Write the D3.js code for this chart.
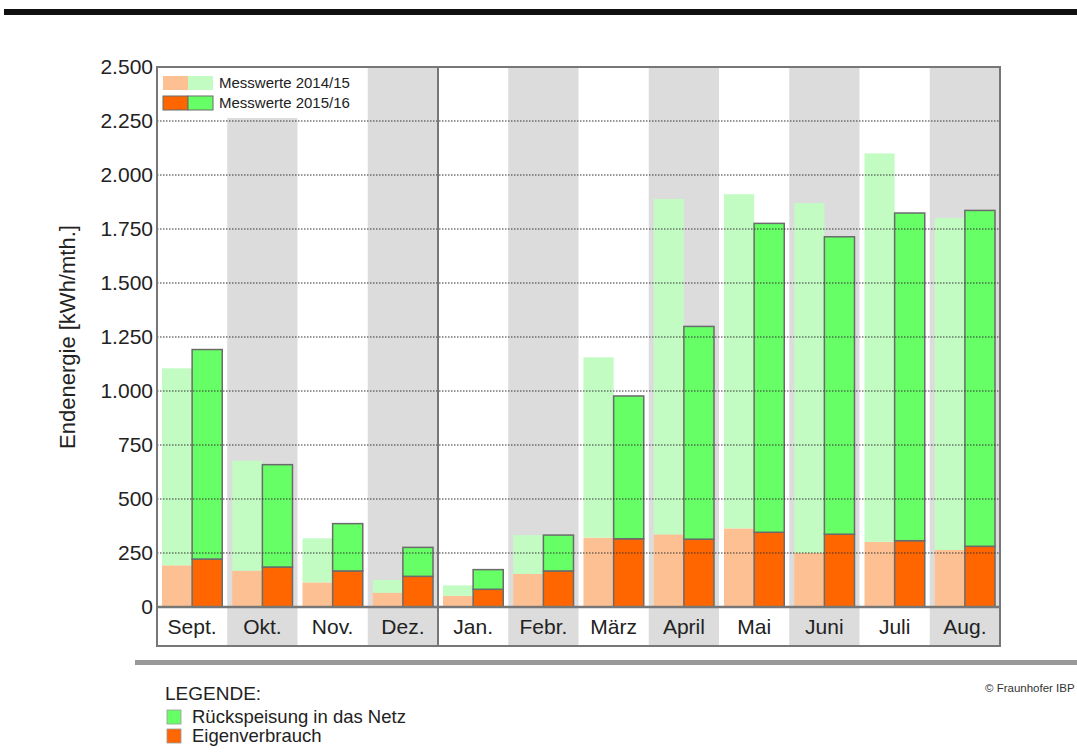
<!DOCTYPE html>
<html>
<head>
<meta charset="utf-8">
<script src="https://cdn.jsdelivr.net/npm/d3@7"></script>
<style>
  body { margin: 0; background: #fff; }
  svg { display: block; font-family: "Liberation Sans", Arial, sans-serif; }
</style>
</head>
<body>
<div id="chart"></div>
<script>
// Monate (Sept. 2015 bis Aug. 2016)
const months = ["Sept.", "Okt.", "Nov.", "Dez.", "Jan.", "Febr.", "März", "April", "Mai", "Juni", "Juli", "Aug."];

// Messwerte 2014/15 [kWh/mth.]
const eigen1415 = [193, 168, 114, 66, 52, 153, 321, 336, 364, 250, 302, 264];
const rueck1415 = [912, 509, 204, 59, 48, 180, 835, 1553, 1547, 1620, 1798, 1537];

// Messwerte 2015/16 [kWh/mth.]
const eigen1516 = [222, 185, 167, 142, 82, 167, 316, 314, 346, 337, 307, 281];
const rueck1516 = [970, 474, 219, 134, 91, 166, 661, 985, 1430, 1377, 1517, 1555];

const yTicks = [0, 250, 500, 750, 1000, 1250, 1500, 1750, 2000, 2250, 2500];

const W = 1077, H = 753;
const plot = {left: 157, right: 1000, top: 67, bottom: 607, labelBottom: 646};

const de = d3.formatLocale({decimal: ",", thousands: ".", grouping: [3], currency: ["", " €"]});
const fmt = de.format(",d");

const svg = d3.select("#chart").append("svg")
    .attr("width", W)
    .attr("height", H);

// schwarzer Balken oben
svg.append("rect").attr("x", 4).attr("y", 9).attr("width", W - 4).attr("height", 6).attr("fill", "#111");

const x = d3.scaleBand().domain(months).range([plot.left, plot.right]).padding(0);
const y = d3.scaleLinear().domain([0, 2500]).range([plot.bottom, plot.top]);

// graue Streifen (jeder zweite Monat), inkl. Beschriftungszeile
svg.append("g").selectAll("rect")
    .data(months.filter((m, i) => i % 2 === 1))
    .join("rect")
      .attr("x", d => x(d))
      .attr("y", plot.top)
      .attr("width", x.bandwidth())
      .attr("height", plot.labelBottom - plot.top)
      .attr("fill", "#dcdcdc");

// Legende oben links (weißer Kasten über den Streifen)
svg.append("rect").attr("x", plot.left + 1).attr("y", plot.top + 1).attr("width", 208).attr("height", 50).attr("fill", "#fff");

const barPad = 5;
const barW = (x.bandwidth() - 2 * barPad) / 2;

// 2014/15 – helle Balken ohne Rand
const g1 = svg.append("g");
g1.selectAll(".e1415").data(months).join("rect")
    .attr("x", d => x(d) + barPad)
    .attr("y", (d, i) => y(eigen1415[i]))
    .attr("width", barW)
    .attr("height", (d, i) => y(0) - y(eigen1415[i]))
    .attr("fill", "#fdc093");
g1.selectAll(".r1415").data(months).join("rect")
    .attr("x", d => x(d) + barPad)
    .attr("y", (d, i) => y(eigen1415[i] + rueck1415[i]))
    .attr("width", barW)
    .attr("height", (d, i) => y(eigen1415[i]) - y(eigen1415[i] + rueck1415[i]))
    .attr("fill", "#c2fcc2");

// 2015/16 – kräftige Balken mit grauem Rand
const g2 = svg.append("g").attr("stroke", "#6b6b6b").attr("stroke-width", 1.5);
g2.selectAll(".e1516").data(months).join("rect")
    .attr("x", d => x(d) + barPad + barW)
    .attr("y", (d, i) => y(eigen1516[i]))
    .attr("width", barW)
    .attr("height", (d, i) => y(0) - y(eigen1516[i]))
    .attr("fill", "#ff6600");
g2.selectAll(".r1516").data(months).join("rect")
    .attr("x", d => x(d) + barPad + barW)
    .attr("y", (d, i) => y(eigen1516[i] + rueck1516[i]))
    .attr("width", barW)
    .attr("height", (d, i) => y(eigen1516[i]) - y(eigen1516[i] + rueck1516[i]))
    .attr("fill", "#66ff66");

// gepunktete Gitterlinien (über den Balken)
svg.append("g").selectAll("line")
    .data(yTicks.filter(t => t > 0 && t < 2500))
    .join("line")
      .attr("x1", plot.left)
      .attr("x2", plot.right)
      .attr("y1", d => y(d))
      .attr("y2", d => y(d))
      .attr("stroke", "#333")
      .attr("stroke-width", 1)
      .attr("stroke-dasharray", "1.5,1.5");

// Y-Achse
const yAxis = svg.append("g")
    .attr("transform", `translate(${plot.left},0)`)
    .call(d3.axisLeft(y).tickValues(yTicks).tickFormat(fmt).tickSize(0).tickPadding(4));
yAxis.select(".domain").remove();
yAxis.selectAll("text")
    .style("font-size", "21px")
    .style("font-family", "Liberation Sans, Arial, sans-serif")
    .attr("fill", "#222");

// Monatsbeschriftung
const xAxis = svg.append("g")
    .attr("transform", `translate(0,${(plot.bottom + plot.labelBottom) / 2})`)
    .call(d3.axisBottom(x).tickSize(0).tickPadding(0));
xAxis.select(".domain").remove();
xAxis.selectAll("text")
    .attr("dy", "0.35em")
    .style("font-size", "21px")
    .style("font-family", "Liberation Sans, Arial, sans-serif")
    .attr("fill", "#222");

// Rahmen, Nulllinie, Trennlinie Dez./Jan.
const frame = svg.append("g").attr("fill", "none").attr("stroke", "#777").attr("stroke-width", 2);
frame.append("rect")
    .attr("x", plot.left).attr("y", plot.top)
    .attr("width", plot.right - plot.left).attr("height", plot.labelBottom - plot.top);
frame.append("line")
    .attr("x1", plot.left).attr("x2", plot.right)
    .attr("y1", y(0)).attr("y2", y(0))
    .attr("stroke-width", 2.5);
frame.append("line")
    .attr("x1", x("Jan.")).attr("x2", x("Jan."))
    .attr("y1", plot.top).attr("y2", plot.labelBottom);

// Y-Titel
svg.append("text")
    .attr("transform", `translate(75,${(plot.top + plot.bottom) / 2}) rotate(-90)`)
    .attr("text-anchor", "middle")
    .style("font-size", "22px")
    .attr("fill", "#222")
    .text("Endenergie [kWh/mth.]");

// Legende Messwerte
const leg = [
  {label: "Messwerte 2014/15", c1: "#fdc093", c2: "#c2fcc2", stroke: "none"},
  {label: "Messwerte 2015/16", c1: "#ff6600", c2: "#66ff66", stroke: "#6b6b6b"}
];
const lg = svg.append("g").selectAll("g").data(leg).join("g")
    .attr("transform", (d, i) => `translate(163,${76 + i * 20})`);
lg.append("rect").attr("width", 25).attr("height", 14).attr("fill", d => d.c1).attr("stroke", d => d.stroke);
lg.append("rect").attr("x", 25).attr("width", 25).attr("height", 14).attr("fill", d => d.c2).attr("stroke", d => d.stroke);
lg.append("text").attr("x", 56).attr("y", 7).attr("dy", "0.35em")
    .style("font-size", "15px").attr("fill", "#222").text(d => d.label);

// graue Linie unten
svg.append("rect").attr("x", 135).attr("y", 660).attr("width", W - 135).attr("height", 5).attr("fill", "#999");

// untere Legende
svg.append("text").attr("x", 165).attr("y", 700).style("font-size", "19px").attr("fill", "#222").text("LEGENDE:");
const bottomLeg = [
  {label: "Rückspeisung in das Netz", color: "#66ff66"},
  {label: "Eigenverbrauch", color: "#ff6600"}
];
const bl = svg.append("g").selectAll("g").data(bottomLeg).join("g")
    .attr("transform", (d, i) => `translate(167,${710 + i * 19})`);
bl.append("rect").attr("width", 14).attr("height", 14).attr("fill", d => d.color).attr("stroke", "#999").attr("stroke-width", 0.8);
bl.append("text").attr("x", 25).attr("y", 7).attr("dy", "0.35em").style("font-size", "18.5px").attr("fill", "#222").text(d => d.label);

svg.append("text").attr("x", 985).attr("y", 692).style("font-size", "11.5px").attr("fill", "#333").text("© Fraunhofer IBP");
</script>
</body>
</html>
